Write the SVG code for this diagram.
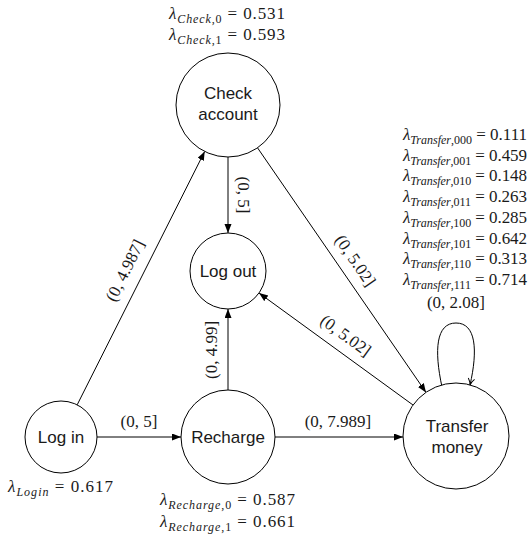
<svg xmlns="http://www.w3.org/2000/svg" width="531" height="536" viewBox="0 0 531 536">
<defs>
<style>
.node{fill:#fff;stroke:#000;stroke-width:1}
.nl{font-family:'Liberation Sans',Arial,sans-serif;font-size:17px;fill:#1a1a1a;text-anchor:middle}
.m{font-family:'Liberation Serif','Times New Roman',serif;font-size:17px;fill:#1a1a1a}
.it{font-style:italic}
.sub{font-size:12px}
.edge{fill:none;stroke:#000;stroke-width:1}
.el{font-family:'Liberation Serif','Times New Roman',serif;font-size:17px;fill:#1a1a1a;text-anchor:middle}
</style>
<marker id="arr" markerUnits="userSpaceOnUse" markerWidth="10" markerHeight="8" refX="9" refY="3.5" orient="auto">
<path d="M0,0 L9,3.5 L0,7 z" fill="#000"/>
</marker>
<marker id="open" markerUnits="userSpaceOnUse" markerWidth="9" markerHeight="9" refX="7" refY="3.5" orient="auto">
<path d="M0.5,0.3 Q3.5,2.8 7,3.5 Q3.5,4.2 0.5,6.7" fill="none" stroke="#000" stroke-width="1"/>
</marker>
</defs>
<rect width="531" height="536" fill="#fff"/>

<g id="connectors">
<line class="edge" x1="77.2" y1="404.8" x2="204.7" y2="151.4" marker-end="url(#arr)"/>
<line class="edge" x1="228" y1="157" x2="228" y2="233" marker-end="url(#arr)"/>
<line class="edge" x1="257.5" y1="147.8" x2="426" y2="392.4" marker-end="url(#arr)"/>
<line class="edge" x1="413" y1="405" x2="259" y2="293" marker-end="url(#arr)"/>
<line class="edge" x1="228" y1="390" x2="228" y2="309" marker-end="url(#arr)"/>
<line class="edge" x1="97" y1="437" x2="181" y2="437" marker-end="url(#arr)"/>
<line class="edge" x1="275" y1="437" x2="403" y2="437" marker-end="url(#arr)"/>
<path class="edge" d="M442,387 C434,350 436,323 456,323 C476,323 478,350 470,385" marker-end="url(#open)"/>
<text class="el" transform="translate(130,273) rotate(-63.4)">(0, 4.987]</text>
<text class="el" transform="translate(238,195) rotate(90)">(0, 5]</text>
<text class="el" transform="translate(350.7,263.8) rotate(55.6)">(0, 5.02]</text>
<text class="el" transform="translate(342.4,340.1) rotate(36)">(0, 5.02]</text>
<text class="el" transform="translate(217,350) rotate(-90)">(0, 4.99]</text>
<text class="el" x="139" y="427">(0, 5]</text>
<text class="el" x="338" y="427">(0, 7.989]</text>
<text class="el" x="456" y="308">(0, 2.08]</text>
</g>

<g id="check-account">
<circle class="node" cx="228" cy="105" r="52"/>
<text class="nl" x="228" y="99">Check</text>
<text class="nl" x="228" y="120">account</text>
<text class="m" x="169" y="19" textLength="116" lengthAdjust="spacing"><tspan class="it">λ</tspan><tspan class="sub it" dy="3.5">Check</tspan><tspan class="sub">,0</tspan><tspan dy="-3.5"> = 0.531</tspan></text>
<text class="m" x="169" y="40" textLength="116" lengthAdjust="spacing"><tspan class="it">λ</tspan><tspan class="sub it" dy="3.5">Check</tspan><tspan class="sub">,1</tspan><tspan dy="-3.5"> = 0.593</tspan></text>
</g>

<g id="log-out">
<circle class="node" cx="228" cy="271" r="38"/>
<text class="nl" x="228" y="277">Log out</text>
</g>

<g id="log-in">
<circle class="node" cx="61" cy="437" r="36"/>
<text class="nl" x="61" y="443">Log in</text>
<text class="m" x="8" y="492" textLength="105" lengthAdjust="spacing"><tspan class="it">λ</tspan><tspan class="sub it" dy="3.5">Login</tspan><tspan dy="-3.5"> = 0.617</tspan></text>
</g>

<g id="recharge">
<circle class="node" cx="228" cy="437" r="47"/>
<text class="nl" x="228" y="443">Recharge</text>
<text class="m" x="160" y="505" textLength="135" lengthAdjust="spacing"><tspan class="it">λ</tspan><tspan class="sub it" dy="3.5">Recharge</tspan><tspan class="sub">,0</tspan><tspan dy="-3.5"> = 0.587</tspan></text>
<text class="m" x="160" y="527" textLength="135" lengthAdjust="spacing"><tspan class="it">λ</tspan><tspan class="sub it" dy="3.5">Recharge</tspan><tspan class="sub">,1</tspan><tspan dy="-3.5"> = 0.661</tspan></text>
</g>

<g id="transfer-money">
<circle class="node" cx="456" cy="436" r="53"/>
<text class="nl" x="457" y="432">Transfer</text>
<text class="nl" x="457" y="453">money</text>
<text class="m" x="403" y="140" textLength="124" lengthAdjust="spacing"><tspan class="it">λ</tspan><tspan class="sub it" dy="3.5">Transfer</tspan><tspan class="sub">,000</tspan><tspan dy="-3.5"> = 0.111</tspan></text>
<text class="m" x="403" y="161" textLength="124" lengthAdjust="spacing"><tspan class="it">λ</tspan><tspan class="sub it" dy="3.5">Transfer</tspan><tspan class="sub">,001</tspan><tspan dy="-3.5"> = 0.459</tspan></text>
<text class="m" x="403" y="181" textLength="124" lengthAdjust="spacing"><tspan class="it">λ</tspan><tspan class="sub it" dy="3.5">Transfer</tspan><tspan class="sub">,010</tspan><tspan dy="-3.5"> = 0.148</tspan></text>
<text class="m" x="403" y="202" textLength="124" lengthAdjust="spacing"><tspan class="it">λ</tspan><tspan class="sub it" dy="3.5">Transfer</tspan><tspan class="sub">,011</tspan><tspan dy="-3.5"> = 0.263</tspan></text>
<text class="m" x="403" y="223" textLength="124" lengthAdjust="spacing"><tspan class="it">λ</tspan><tspan class="sub it" dy="3.5">Transfer</tspan><tspan class="sub">,100</tspan><tspan dy="-3.5"> = 0.285</tspan></text>
<text class="m" x="403" y="244" textLength="124" lengthAdjust="spacing"><tspan class="it">λ</tspan><tspan class="sub it" dy="3.5">Transfer</tspan><tspan class="sub">,101</tspan><tspan dy="-3.5"> = 0.642</tspan></text>
<text class="m" x="403" y="264" textLength="124" lengthAdjust="spacing"><tspan class="it">λ</tspan><tspan class="sub it" dy="3.5">Transfer</tspan><tspan class="sub">,110</tspan><tspan dy="-3.5"> = 0.313</tspan></text>
<text class="m" x="403" y="285" textLength="124" lengthAdjust="spacing"><tspan class="it">λ</tspan><tspan class="sub it" dy="3.5">Transfer</tspan><tspan class="sub">,111</tspan><tspan dy="-3.5"> = 0.714</tspan></text>
</g>
</svg>
